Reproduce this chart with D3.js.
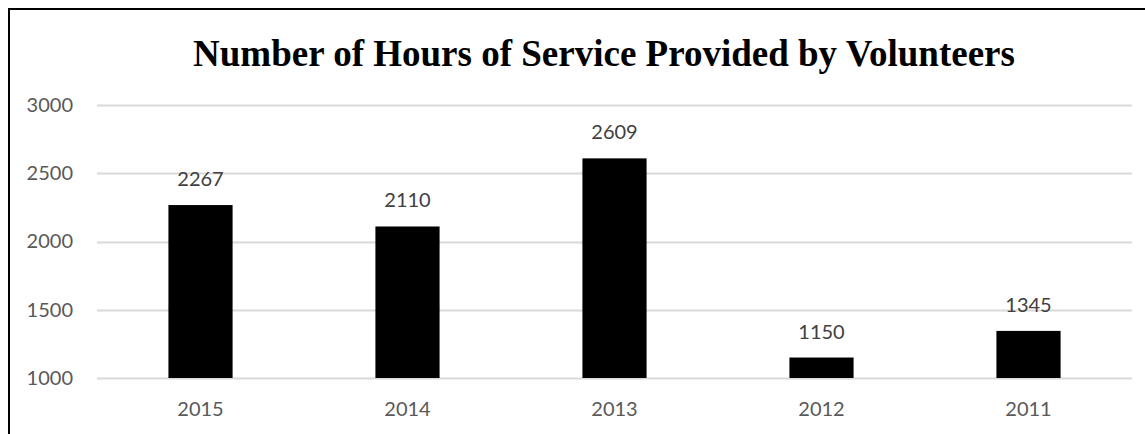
<!DOCTYPE html>
<html>
<head>
<meta charset="utf-8">
<script src="https://cdn.jsdelivr.net/npm/d3@7"></script>
<style>
  html, body { margin: 0; padding: 0; background: #fff; }
  svg { display: block; }
</style>
</head>
<body>
<div id="chart"></div>
<script>
// Volunteer service hours by year
const years = ["2015", "2014", "2013", "2012", "2011"];
const hours = [2267, 2110, 2609, 1150, 1345];
const yTicks = [1000, 1500, 2000, 2500, 3000];
const titleText = "Number of Hours of Service Provided by Volunteers";

const W = 1145, H = 434;
const margin = { left: 97, right: 13, top: 105, bottom: 56 };

const svg = d3.select("#chart").append("svg")
  .attr("width", W).attr("height", H);

// outer frame (runs past the right and bottom edges)
svg.append("rect")
  .attr("x", 9).attr("y", 9)
  .attr("width", W + 20).attr("height", H + 20)
  .attr("fill", "none").attr("stroke", "#000").attr("stroke-width", 2);

const x = d3.scaleBand()
  .domain(years)
  .range([margin.left, W - margin.right])
  .paddingInner(0.69).paddingOuter(0.345);

const y = d3.scaleLinear()
  .domain([1000, 3000])
  .range([H - margin.bottom, margin.top]);

// gridlines
svg.append("g")
  .selectAll("line")
  .data(yTicks)
  .join("line")
  .attr("x1", margin.left).attr("x2", W - margin.right)
  .attr("y1", d => Math.round(y(d)) + 0.5).attr("y2", d => Math.round(y(d)) + 0.5)
  .attr("stroke", "#d9d9d9").attr("stroke-width", 2);

// y axis labels
const yAxis = d3.axisLeft(y).tickValues(yTicks).tickSize(0).tickPadding(24)
  .tickFormat(d3.format("d"));
svg.append("g")
  .attr("transform", `translate(${margin.left},0)`)
  .call(yAxis)
  .call(g => g.select(".domain").remove())
  .call(g => g.selectAll("text")
    .attr("fill", "#595959")
    .style("font-family", "Lato, 'Open Sans', sans-serif")
    .style("font-size", "20px"));

// x axis labels
const xAxis = d3.axisBottom(x).tickSize(0).tickPadding(24);
svg.append("g")
  .attr("transform", `translate(0,${y(1000)})`)
  .call(xAxis)
  .call(g => g.select(".domain").remove())
  .call(g => g.selectAll("text")
    .attr("fill", "#595959")
    .style("font-family", "Lato, 'Open Sans', sans-serif")
    .style("font-size", "20px"));

// bars
svg.append("g")
  .selectAll("rect")
  .data(years)
  .join("rect")
  .attr("x", d => x(d))
  .attr("width", x.bandwidth())
  .attr("y", (d, i) => y(hours[i]))
  .attr("height", (d, i) => y(1000) - y(hours[i]))
  .attr("fill", "#000");

// value labels
svg.append("g")
  .selectAll("text")
  .data(years)
  .join("text")
  .attr("x", d => x(d) + x.bandwidth() / 2)
  .attr("y", (d, i) => y(hours[i]) - 19)
  .attr("text-anchor", "middle")
  .attr("fill", "#404040")
  .style("font-family", "Lato, 'Open Sans', sans-serif")
  .style("font-size", "20px")
  .text((d, i) => hours[i]);

// title
svg.append("text")
  .attr("x", 604).attr("y", 66)
  .attr("text-anchor", "middle")
  .attr("fill", "#000")
  .style("font-family", "'Liberation Serif', 'Times New Roman', serif")
  .style("font-weight", "bold")
  .style("font-size", "37px")
  .text(titleText);
</script>
</body>
</html>
